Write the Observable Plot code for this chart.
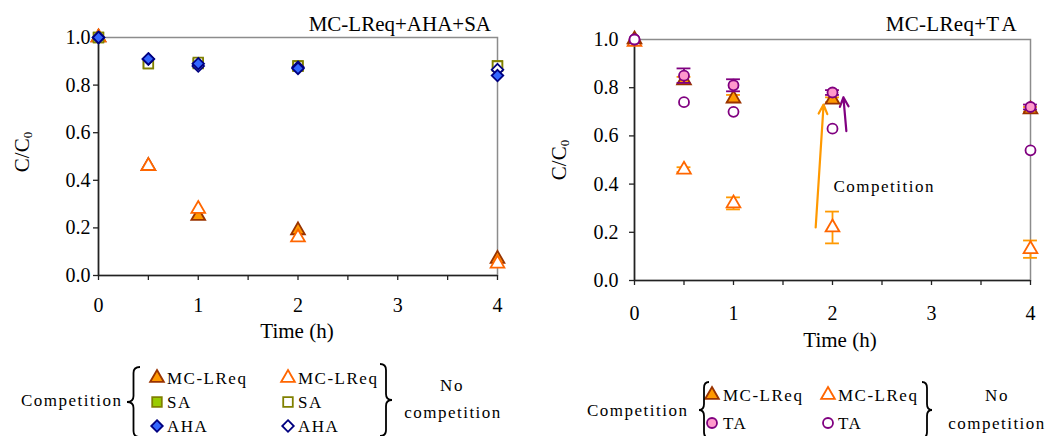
<!DOCTYPE html>
<html><head><meta charset="utf-8">
<script src="https://cdn.jsdelivr.net/npm/d3@7"></script>
<script src="https://cdn.jsdelivr.net/npm/@observablehq/plot@0.6"></script>
<style>
body{margin:0;background:#fff;}
#wrap{position:relative;width:1048px;height:436px;overflow:hidden;font-family:"Liberation Serif","Times New Roman",serif;color:#000;}
.abs{position:absolute;white-space:nowrap;line-height:1;}
.plot{position:absolute;top:0;}
</style></head><body><div id="wrap"></div>
<script>
// ---------- data ----------
const times = [0, 0.5, 1, 2, 4];
// left panel: MC-LReq + AHA + SA
const leftMCComp = [1.0, 0.46, 0.25, 0.19, 0.07];
const leftMCNo   = [1.0, 0.46, 0.28, 0.16, 0.05];
const saComp     = [1.0, 0.89, 0.89, 0.88, 0.88];
const saNo       = [1.0, 0.89, 0.895, 0.88, 0.88];
const ahaComp    = [1.0, 0.91, 0.89, 0.87, 0.84];
const ahaNo      = [1.0, 0.91, 0.88, 0.875, 0.865];
// right panel: MC-LReq + TA
const rightMCComp    = [1.0, 0.83, 0.755, 0.75, 0.71];
const rightMCCompErr = [0, 0.015, 0.015, 0.01, 0.01];
const rightMCNo      = [0.99, 0.46, 0.32, 0.22, 0.13];
const rightMCNoErr   = [0, 0.01, 0.025, 0.066, 0.036];
const taComp         = [1.0, 0.85, 0.81, 0.78, 0.72];
const taCompErr      = [0, 0.03, 0.025, 0.01, 0.01];
const taNo           = [1.0, 0.74, 0.70, 0.63, 0.54];
// annotation arrows (right panel, data units)
const arrowX1 = [1.83, 2.14];
const arrowY1 = [0.22, 0.62];
const arrowX2 = [1.91, 2.11];
const arrowY2 = [0.73, 0.76];
const annotX = [2.01];
const annotY = [0.39];
const annotText = ["Competition"];
// ticks & labels
const xTicks = [0, 0.5, 1, 1.5, 2, 2.5, 3, 3.5, 4];
const xTickLabels = ["0", "", "1", "", "2", "", "3", "", "4"];
const yTicks = [0, 0.2, 0.4, 0.6, 0.8, 1.0];
const leftTitle = "MC-LReq+AHA+SA";
const rightTitle = "MC-LReq+TA";
const xLabel = "Time (h)";
const legendLeftRows = ["MC-LReq", "SA", "AHA"];
const legendRightRows = ["MC-LReq", "TA"];
const legendGroupLabel = "Competition";
const legendNoLabel = ["No", "competition"];

// ---------- styles ----------
const FONT = "Liberation Serif";
const ST = {
  mcComp: {symbol: "triangle", r: 5.1, fill: "#FF9900", stroke: "#993300"},
  mcNo:   {symbol: "triangle", r: 5.1, fill: "#fff", stroke: "#FF6600"},
  saComp: {symbol: "square", r: 5.4, fill: "#99CC00", stroke: "#808000"},
  saNo:   {symbol: "square", r: 5.4, fill: "#fff", stroke: "#808000"},
  ahaComp:{symbol: "diamond2", r: 5.2, fill: "#3366FF", stroke: "#000080"},
  ahaNo:  {symbol: "diamond2", r: 5.2, fill: "#fff", stroke: "#000080"},
  taComp: {symbol: "circle", r: 5, fill: "#FF99CC", stroke: "#800080"},
  taNo:   {symbol: "circle", r: 5, fill: "#fff", stroke: "#800080"}
};
const rows = (vals, errs) => times.map((t, i) => ({t, v: vals[i], e: errs ? errs[i] : 0}));
const dots = (vals, s) => Plot.dot(rows(vals), {x: "t", y: "v", ...s, strokeWidth: 1.8});
function errBars(vals, errs, color) {
  const d = rows(vals, errs).filter(r => r.e > 0);
  const w = 0.07;
  return [
    Plot.ruleX(d, {x: "t", y1: r => r.v - r.e, y2: r => r.v + r.e, stroke: color, strokeWidth: 1.8}),
    Plot.ruleY(d, {y: r => r.v + r.e, x1: r => r.t - w, x2: r => r.t + w, stroke: color, strokeWidth: 1.8}),
    Plot.ruleY(d, {y: r => r.v - r.e, x1: r => r.t - w, x2: r => r.t + w, stroke: color, strokeWidth: 1.8})
  ];
}
function panel(o, marks) {
  return Plot.plot({
    width: o.width, height: o.height,
    marginLeft: o.ml, marginRight: o.mr, marginTop: o.mt, marginBottom: o.height - o.bottom,
    x: {domain: [0, 4]}, y: {domain: [0, 1]},
    style: {fontFamily: FONT, fontSize: "20px", color: "#000", background: "transparent", overflow: "visible"},
    marks: [
      Plot.frame({stroke: "#8c8c8c", strokeWidth: 1.5}),
      Plot.axisY({ticks: yTicks, tickFormat: d3.format(".1f"), tickSize: 5, tickPadding: o.padY, stroke: "#222", strokeWidth: 1.3, label: null, fontSize: 20}),
      Plot.axisX({ticks: xTicks, tickFormat: d => xTickLabels[xTicks.indexOf(d)], tickSize: 5, tickPadding: o.padX, stroke: "#222", strokeWidth: 1.3, label: null, fontSize: 20}),
      Plot.ruleX([0], {stroke: "#222", strokeWidth: 1.6}),
      Plot.ruleY([0], {stroke: "#222", strokeWidth: 1.6}),
      ...marks
    ]
  });
}

const wrap = document.getElementById("wrap");
const left = panel({width: 520, height: 345, ml: 98, mr: 23, mt: 37, bottom: 275, padX: 17, padY: 3}, [
  dots(leftMCComp, ST.mcComp),
  dots(leftMCNo, ST.mcNo),
  dots(saComp, ST.saComp),
  dots(saNo, ST.saNo),
  dots(ahaNo, ST.ahaNo),
  dots(ahaComp, ST.ahaComp)
]);
left.classList.add("plot"); left.style.left = "0px";
wrap.appendChild(left);

const right = panel({width: 518, height: 350, ml: 104, mr: 18, mt: 39, bottom: 280, padX: 20, padY: 11}, [
  Plot.arrow(arrowX1.map((x, i) => ({x1: x, y1: arrowY1[i], x2: arrowX2[i], y2: arrowY2[i], c: i})),
    {x1: "x1", y1: "y1", x2: "x2", y2: "y2", stroke: d => d.c === 0 ? "#FF9900" : "#800080", strokeWidth: 2.2, headLength: 7, headAngle: 50}),
  Plot.text(annotText, {x: (d, i) => annotX[i], y: (d, i) => annotY[i], text: d => d, textAnchor: "start", fontSize: 17, fill: "#000"}),
  ...errBars(rightMCNo, rightMCNoErr, "#FF9900"),
  ...errBars(rightMCComp, rightMCCompErr, "#FF9900"),
  dots(rightMCNo, ST.mcNo),
  dots(rightMCComp, ST.mcComp),
  ...errBars(taComp, taCompErr, "#800080"),
  dots(taComp, ST.taComp),
  dots(taNo, ST.taNo)
]);
right.classList.add("plot"); right.style.left = "530px";
wrap.appendChild(right);
right.querySelectorAll("text").forEach(t => { if (t.textContent === "Competition") t.setAttribute("letter-spacing", "1.5"); });

// ---------- titles & axis labels ----------
function addText(html, css) {
  const d = document.createElement("div");
  d.className = "abs"; d.innerHTML = html;
  Object.assign(d.style, css);
  wrap.appendChild(d);
  return d;
}
addText(leftTitle, {right: (1048 - 491) + "px", top: "14px", fontSize: "21px"});
addText(rightTitle.replace("T", "T&#8202;"), {right: (1048 - 1017) + "px", top: "14px", fontSize: "21px", letterSpacing: "0.3px"});
addText(xLabel, {left: "297px", top: "321px", fontSize: "21px", transform: "translateX(-50%)"});
addText(xLabel, {left: "840px", top: "330px", fontSize: "21px", transform: "translateX(-50%)"});
const ylab = 'C/C<sub style="font-size:13px;vertical-align:-3px">0</sub>';
addText(ylab, {left: "23px", top: "152px", fontSize: "21px", transform: "translate(-50%,-50%) rotate(-90deg)"});
addText(ylab, {left: "560px", top: "160px", fontSize: "21px", transform: "translate(-50%,-50%) rotate(-90deg)"});

// ---------- legends ----------
const svg = d3.select(wrap).append("svg")
  .attr("width", 1048).attr("height", 436)
  .style("position", "absolute").style("left", 0).style("top", 0)
  .style("pointer-events", "none");
const lg = svg.append("g").attr("font-family", FONT).attr("font-size", 17).attr("letter-spacing", 1.5);
function legText(x, y, s, anchor = "start") {
  lg.append("text").attr("x", x).attr("y", y).attr("dy", "0.35em").attr("text-anchor", anchor).text(s);
}
function legSym(x, y, s) {
  const sym = {triangle: d3.symbolTriangle, square: d3.symbolSquare, diamond2: d3.symbolDiamond2, circle: d3.symbolCircle}[s.symbol];
  lg.append("path").attr("transform", `translate(${x},${y})`)
    .attr("d", d3.symbol(sym, Math.PI * s.r * s.r)())
    .attr("fill", s.fill).attr("stroke", s.stroke).attr("stroke-width", 1.8);
}
function brace(x0, x1, top, mid, bottom, tipLeft) {
  const xs = (x0 + x1) / 2, r = 6;
  const xo = tipLeft ? x1 : x0, xt = tipLeft ? x0 : x1;
  const p = `M${xo},${top} Q${xs},${top} ${xs},${top + r} L${xs},${mid - r} Q${xs},${mid} ${xt},${mid} Q${xs},${mid} ${xs},${mid + r} L${xs},${bottom - r} Q${xs},${bottom} ${xo},${bottom}`;
  svg.append("path").attr("d", p).attr("fill", "none").attr("stroke", "#000").attr("stroke-width", 1.8);
}
// left legend
legText(21, 400, legendGroupLabel);
brace(127, 140, 367, 402, 437, true);
const leftRowY = [378, 402, 426];
const leftSty = [[ST.mcComp, ST.mcNo], [ST.saComp, ST.saNo], [ST.ahaComp, ST.ahaNo]];
legendLeftRows.forEach((name, i) => {
  legSym(157, leftRowY[i], leftSty[i][0]); legText(167, leftRowY[i], name);
  legSym(288, leftRowY[i], leftSty[i][1]); legText(298, leftRowY[i], name);
});
brace(380, 392, 364, 400, 436, false);
legText(452, 385, legendNoLabel[0], "middle");
legText(453, 412, legendNoLabel[1], "middle");
// right legend
legText(587, 410, legendGroupLabel);
brace(699, 709, 382, 410, 438, true);
const rightRowY = [395, 423];
const rightSty = [[ST.mcComp, ST.mcNo], [ST.taComp, ST.taNo]];
legendRightRows.forEach((name, i) => {
  legSym(712, rightRowY[i], rightSty[i][0]); legText(723, rightRowY[i], name);
  legSym(828, rightRowY[i], rightSty[i][1]); legText(838, rightRowY[i], name);
});
brace(922, 932, 382, 410, 438, false);
legText(997, 395, legendNoLabel[0], "middle");
legText(997, 423, legendNoLabel[1], "middle");
</script></body></html>
